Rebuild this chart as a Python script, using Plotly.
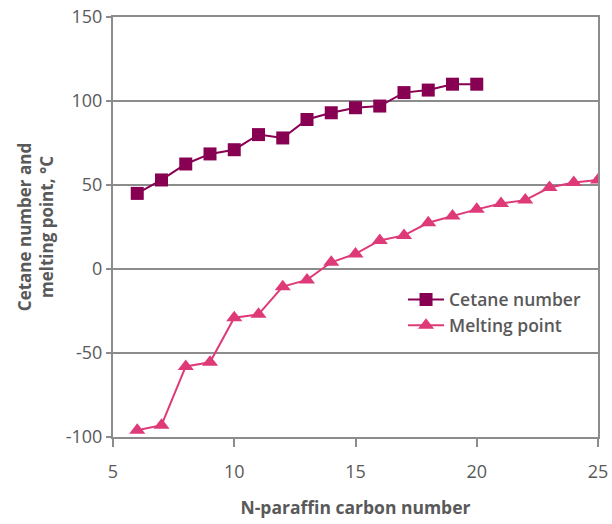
import plotly.graph_objects as go

cetane_x = [6, 7, 8, 9, 10, 11, 12, 13, 14, 15, 16, 17, 18, 19, 20]
cetane_y = [45, 53, 62.5, 68.5, 71, 80, 78, 89, 93, 96, 97, 105, 106.5, 110, 110]

melt_x = [6, 7, 8, 9, 10, 11, 12, 13, 14, 15, 16, 17, 18, 19, 20, 21, 22, 23, 24, 25]
melt_y = [-96, -93, -58, -55.5, -29, -27, -10.5, -6.5, 4, 9, 17, 20, 27.5, 31.5, 35.5, 39, 41, 48.5, 51.5, 53]

x_ticks = [5, 10, 15, 20, 25]
y_ticks = [-100, -50, 0, 50, 100, 150]
y_tick_labels = ["-100", "-50", "0", "50", "100", "150"]

text_color = "#595959"
grid_color = "#8c8c8c"
font_family = "Open Sans, Lato, sans-serif"

fig = go.Figure()
fig.add_trace(go.Scatter(
    x=cetane_x, y=cetane_y, mode="lines+markers", name="Cetane number",
    line=dict(color="#870052", width=2),
    marker=dict(symbol="square", size=13, color="#870052"),
))
fig.add_trace(go.Scatter(
    x=melt_x, y=melt_y, mode="lines+markers", name="Melting point",
    line=dict(color="#DE3A78", width=2),
    marker=dict(symbol="triangle-up", size=14, color="#DE3A78"),
))

fig.update_layout(
    width=612, height=524,
    margin=dict(l=113, r=14, t=17, b=87),
    plot_bgcolor="white", paper_bgcolor="white",
    font=dict(family=font_family, color=text_color, size=18),
    showlegend=True,
    legend=dict(
        x=0.598, y=0.37, xanchor="left", yanchor="top",
        bgcolor="rgba(0,0,0,0)", font=dict(size=17.5, color=text_color, weight=600),
        itemwidth=36, tracegroupgap=0,
    ),
)
fig.update_xaxes(
    range=[5, 25], tickvals=x_ticks, showgrid=False, automargin=False,
    showline=True, linecolor=grid_color, linewidth=2, mirror=True,
    ticks="outside", ticklen=8, tickcolor=grid_color, tickwidth=2,
    tickfont=dict(size=18, color=text_color), ticklabeloverflow="allow",
    ticklabelstandoff=9,
    title=dict(text="<b>N-paraffin carbon number</b>", font=dict(size=17.5, color=text_color), standoff=20),
    zeroline=False,
)
fig.update_yaxes(
    range=[-100, 150], tickvals=y_ticks, ticktext=y_tick_labels, showgrid=True, automargin=False,
    gridcolor=grid_color, gridwidth=1.5,
    showline=True, linecolor=grid_color, linewidth=2, mirror=True,
    ticks="outside", ticklen=5, tickcolor=grid_color, tickwidth=2,
    tickfont=dict(size=18, color=text_color), ticklabeloverflow="allow",
    title=dict(text="<b>Cetane number and<br>melting point, °C</b>", font=dict(size=17, color=text_color), standoff=8),
    zeroline=False,
)

fig.write_html("out.html", config={"displayModeBar": False},
               post_script="document.body.style.margin='0';document.body.style.overflow='hidden';")
